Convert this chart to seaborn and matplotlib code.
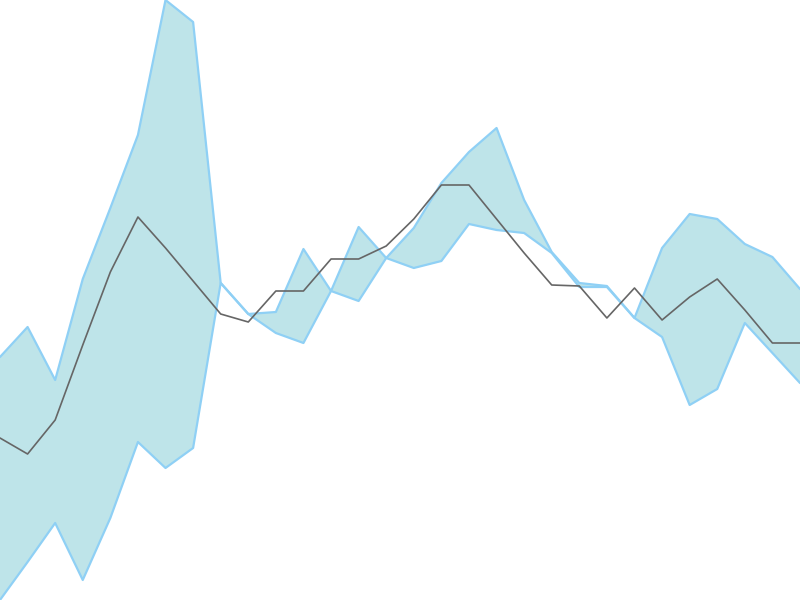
import numpy as np
import pandas as pd
import seaborn as sns
import matplotlib.pyplot as plt

# values (0 = bottom, 600 = top)
steps = list(range(30))
band_a = [243, 273, 220, 321, 392, 465, 600, 578, 317, 286,
          288, 351, 309, 373, 342, 372, 417, 448, 472, 400,
          348, 317, 314, 282, 352, 386, 381, 356, 343, 311]
band_b = [0, 38, 77, 20, 82, 158, 132, 152, 317, 286,
          267, 257, 309, 299, 342, 332, 339, 376, 370, 367,
          347, 313, 313, 282, 263, 195, 211, 277, 247, 217]
mean_line = [162, 146, 180, 255, 328, 383, 352, 319, 286, 278,
             309, 309, 341, 341, 354, 381, 415, 415, 381, 347,
             315, 314, 282, 312, 280, 303, 321, 290, 257, 257]

df = pd.DataFrame({'step': steps, 'a': band_a, 'b': band_b, 'mean': mean_line})

sns.set_style('white')
fig = plt.figure(figsize=(8, 6), dpi=100)
ax = fig.add_axes([0, 0, 1, 1])

ax.fill_between(df['step'], df['a'], df['b'], color='#bee4e9', linewidth=0)
sns.lineplot(data=df, x='step', y='a', ax=ax, color='#8fd0f5', linewidth=1.6)
sns.lineplot(data=df, x='step', y='b', ax=ax, color='#8fd0f5', linewidth=1.6)
sns.lineplot(data=df, x='step', y='mean', ax=ax, color='#666666', linewidth=1.2)

ax.set_xlim(0, 29)
ax.set_ylim(0, 600)
ax.axis('off')

plt.savefig('out.png', dpi=100)
